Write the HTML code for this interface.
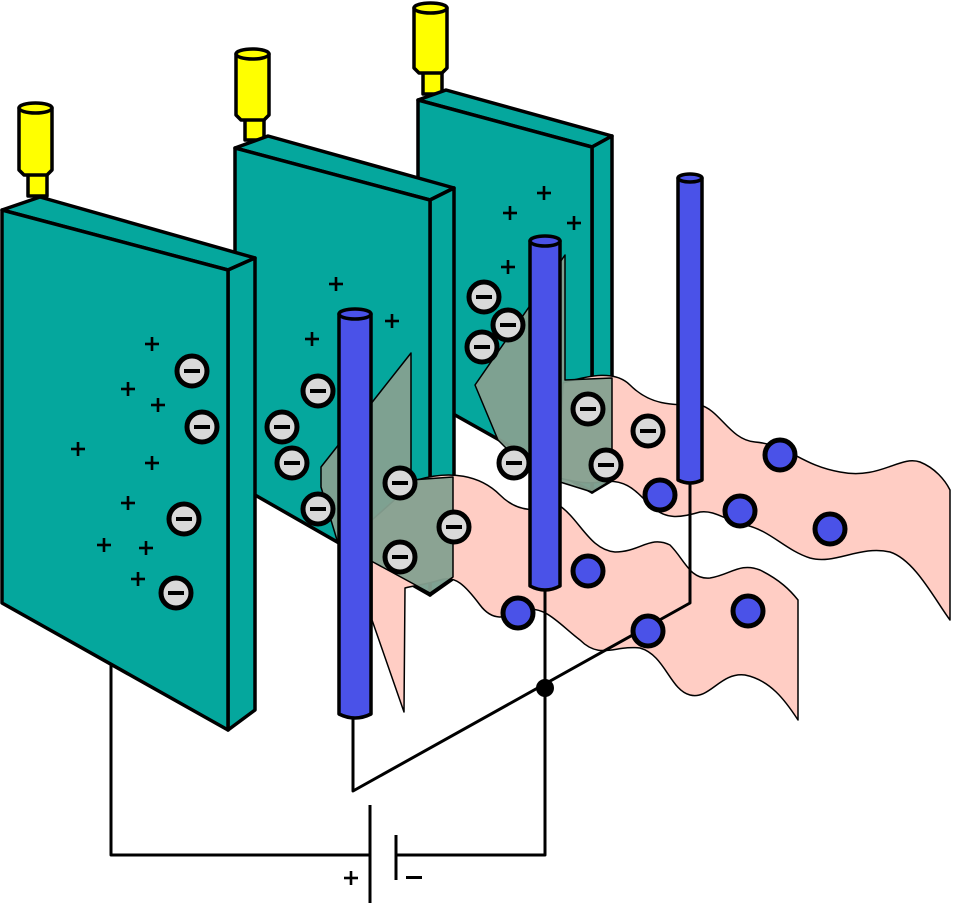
<!DOCTYPE html>
<html><head><meta charset="utf-8"><style>html,body{margin:0;padding:0;background:#fff}svg{display:block}</style></head><body>
<svg width="953" height="905" viewBox="0 0 953 905" xmlns="http://www.w3.org/2000/svg" font-family="Liberation Sans, sans-serif">
<defs>
<g id="neg"><circle r="15" fill="#d9d9d9" stroke="#000" stroke-width="5"/><rect x="-8" y="-2" width="16" height="4" fill="#000"/></g>
<g id="pos"><circle r="15" fill="#4a52e8" stroke="#000" stroke-width="5"/></g>
<g id="plus"><rect x="-7" y="-1.3" width="14" height="2.6" fill="#000"/><rect x="-1.3" y="-7" width="2.6" height="14" fill="#000"/></g>
</defs>
<g stroke="#000" stroke-width="3.5" stroke-linejoin="round">
<g fill="#ffff00">
<rect x="423" y="68" width="19" height="26"/>
<path d="M414,8 L414,68 L419,73 L442,73 L447,68 L447,8 Z"/>
<ellipse cx="430.5" cy="8" rx="16.5" ry="5"/>
<rect x="245" y="115" width="19" height="25"/>
<path d="M236,54 L236,115 L241,120 L264,120 L269,115 L269,54 Z"/>
<ellipse cx="252.5" cy="54" rx="16.5" ry="5"/>
<rect x="28" y="170" width="19" height="26"/>
<path d="M19,108 L19,170 L24,175 L47,175 L52,170 L52,108 Z"/>
<ellipse cx="35.5" cy="108" rx="16.5" ry="5"/>
</g>
<g fill="#05a79d">
<path d="M418,100 L446,90 L612,136 L592,147 Z"/>
<path d="M592,147 L612,136 L612,480 L592,492 Z"/>
<path d="M418,100 L592,147 L592,492 L455,415 L418,400 Z"/>
</g>
<g fill="#05a79d">
<path d="M235,148 L268,136 L454,188 L430,200 Z"/>
<path d="M430,200 L454,188 L454,578 L430,595 Z"/>
<path d="M235,148 L430,200 L430,595 L255,495 L235,480 Z"/>
</g>
<path fill="#ffcdc4" stroke-width="1.5" d="M563,383 C590,375 615,370 630,385 C650,405 670,405 700,405 C720,410 730,440 755,442 C790,445 800,465 840,472 C880,480 900,455 920,462 C935,468 945,480 950,490 L950,620 C935,600 915,560 890,552 C860,545 835,565 810,558 C785,550 770,530 745,525 C725,520 715,510 700,512 C680,518 665,520 650,505 C635,490 625,478 600,482 C585,485 570,480 558,478 Z"/>
<path fill="#ffcdc4" stroke-width="1.5" d="M417,480 C450,470 480,475 500,495 C520,515 540,510 560,506 C580,520 590,550 615,552 C640,552 650,535 670,545 C685,560 690,580 710,578 C730,575 740,562 760,570 C780,580 790,590 798,600 L798,720 C785,700 770,680 745,675 C720,672 710,700 690,695 C670,690 665,655 640,648 C615,645 600,660 580,640 C560,625 545,605 525,610 C510,615 495,625 480,605 C465,585 455,575 440,580 C425,585 415,585 405,588 L404,712 L372,620 L372,520 Z"/>
<path fill="#85a090" fill-opacity="0.95" stroke-width="1.5" d="M321,467 L411,353 L411,480 L453,477 L453,577 L430,593 L410,582 L373,562 L337,540 L321,487 Z"/>
<path fill="#85a090" fill-opacity="0.95" stroke-width="1.5" d="M475,385 L565,255 L565,380 L612,378 L612,480 L592,492 L560,482 L528,470 L498,440 Z"/>
<g fill="#05a79d">
<path d="M2,210 L40,197 L255,258 L228,270 Z"/>
<path d="M228,270 L255,258 L255,710 L228,730 Z"/>
<path d="M2,210 L228,270 L228,730 L2,603 Z"/>
</g>
<g fill="none" stroke-width="3">
<path d="M111,665 L111,855 L370,855"/>
<path d="M396,855 L545,855 L545,590"/>
<path d="M353,718 L353,791 L690,603 L690,483"/>
<path d="M370,805 L370,903"/>
<path d="M396,835 L396,880"/>
</g>
<circle cx="545" cy="688" r="9" fill="#000" stroke="none"/>
<g fill="#4a52e8">
<path d="M339,314 L339,714 Q355,722 371,714 L371,314 Z"/>
<ellipse cx="355" cy="314" rx="16" ry="5"/>
<path d="M530,241 L530,586 Q545,594 560,586 L560,241 Z"/>
<ellipse cx="545" cy="241" rx="15" ry="5"/>
<path d="M678,178 L678,480 Q690,486 702,480 L702,178 Z"/>
<ellipse cx="690" cy="178" rx="12" ry="4"/>
</g>
</g>
<use href="#neg" x="192" y="371"/><use href="#neg" x="202" y="427"/><use href="#neg" x="184" y="519"/><use href="#neg" x="176" y="593"/>
<use href="#neg" x="318" y="391"/><use href="#neg" x="282" y="427"/><use href="#neg" x="292" y="463"/><use href="#neg" x="318" y="509"/>
<use href="#neg" x="400" y="483"/><use href="#neg" x="454" y="527"/><use href="#neg" x="400" y="557"/>
<use href="#neg" x="484" y="297"/><use href="#neg" x="508" y="325"/><use href="#neg" x="482" y="347"/>
<use href="#neg" x="588" y="409"/><use href="#neg" x="648" y="431"/><use href="#neg" x="514" y="463"/><use href="#neg" x="606" y="465"/>
<use href="#pos" x="780" y="455"/><use href="#pos" x="660" y="495"/><use href="#pos" x="740" y="511"/><use href="#pos" x="830" y="529"/>
<use href="#pos" x="588" y="571"/><use href="#pos" x="518" y="613"/><use href="#pos" x="648" y="631"/><use href="#pos" x="748" y="611"/>
<use href="#plus" x="152" y="344"/><use href="#plus" x="128" y="389"/><use href="#plus" x="158" y="405"/><use href="#plus" x="78" y="449"/>
<use href="#plus" x="152" y="463"/><use href="#plus" x="128" y="503"/><use href="#plus" x="104" y="545"/><use href="#plus" x="146" y="548"/><use href="#plus" x="138" y="579"/>
<use href="#plus" x="336" y="284"/><use href="#plus" x="312" y="339"/><use href="#plus" x="392" y="321"/>
<use href="#plus" x="544" y="193"/><use href="#plus" x="510" y="213"/><use href="#plus" x="574" y="223"/><use href="#plus" x="508" y="267"/>
<use href="#plus" x="351" y="878"/>
<rect x="406" y="876" width="16" height="3" fill="#000"/>
</svg>
</body></html>
